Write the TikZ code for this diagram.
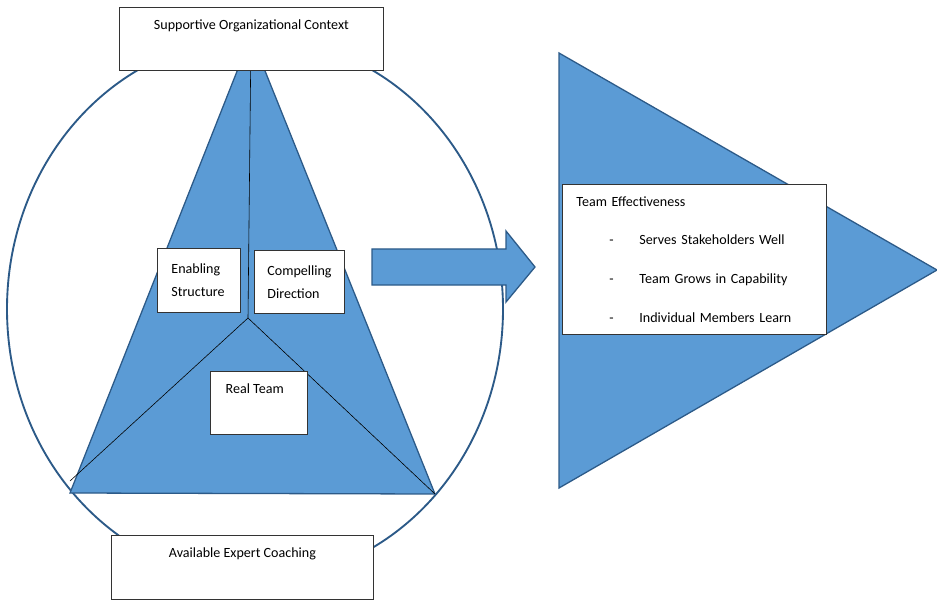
\documentclass[tikz,border=0pt]{standalone}
\usepackage{fontspec}
\setmainfont{Carlito}
\usetikzlibrary{positioning,calc}
\definecolor{fillblue}{RGB}{91,155,213}
\definecolor{lineblue}{RGB}{44,90,136}

\begin{document}
\begin{tikzpicture}[x=0.03cm, y=-0.03cm,
  box/.style={draw=black!80, fill=white, line width=0.7pt, inner sep=0pt,
    anchor=north west, font=\fontsize{12}{19.6}\selectfont},
  capbox/.style={box, align=center, text height=0.66cm, text depth=#1},
  sidebox/.style={box, align=left, inner xsep=0.42cm},
  bluepart/.style={fill=fillblue, draw=lineblue, line width=1.1pt, line join=miter},
  spoke/.style={draw=black, line width=0.5pt}]

\useasboundingbox (0,0) rectangle (937,600);

% ================= LEFT: CIRCLE AND TRIANGLE =================
\draw[lineblue, line width=1.6pt] (255,309) ellipse [x radius=248, y radius=271];

\coordinate (apex) at (251,36);
\coordinate (left) at (70,493);
\coordinate (right) at (435,494);
\coordinate (hub) at (248,318);
\coordinate (leftend) at (70,481);

\draw[bluepart] (apex) -- (left) -- (right) -- cycle;

% --- Spokes ---
\draw[spoke] (apex) -- (hub);
\draw[spoke] (hub) -- (leftend);
\draw[spoke] (hub) -- (right);

% --- Boxes ---
\node[capbox=1.23cm, minimum width=7.92cm] (context) at (119,7)
  {Supportive Organizational Context};
\node[sidebox, text width=1.65cm, minimum height=1.92cm] (structure) at (157,248)
  {Enabling\\Structure};
\node[sidebox, inner xsep=0.39cm, text width=1.92cm, minimum height=1.89cm] (direction) at (254,250)
  {Compelling\\Direction};
\node[capbox=1.23cm, minimum width=2.91cm] (team) at (210,371)
  {Real Team\hspace*{0.25cm}};
\node[capbox=1.26cm, minimum width=7.86cm] (coaching) at (111,535)
  {Available Expert Coaching};

% ================= MIDDLE: ARROW =================
\draw[bluepart] (372,249) -- (506,249) -- (506,231) -- (535,267)
  -- (506,302) -- (506,285) -- (372,285) -- cycle;

% ================= RIGHT: OUTCOME =================
\draw[bluepart] (559,53) -- (937,270) -- (559,488) -- cycle;

\node[sidebox, text width=7.08cm, minimum height=4.5cm,
  font=\fontsize{12}{33}\selectfont] (effect) at (562,184)
  {Team Effectiveness\\
   \hspace*{0.99cm}\makebox[0.9cm][l]{-}Serves Stakeholders Well\\
   \hspace*{0.99cm}\makebox[0.9cm][l]{-}Team Grows in Capability\\
   \hspace*{0.99cm}\makebox[0.9cm][l]{-}Individual Members Learn};

\end{tikzpicture}
\end{document}
